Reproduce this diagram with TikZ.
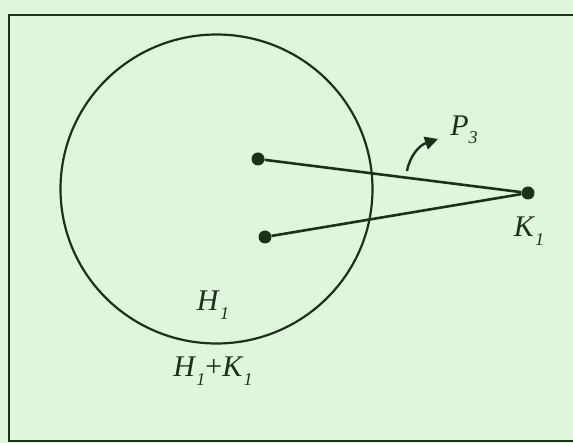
\documentclass[tikz,border=0pt]{standalone}
\usepackage{fontspec}
\setmainfont{Liberation Serif}
\usetikzlibrary{arrows.meta}
\definecolor{ink}{RGB}{28,48,32}
\definecolor{paper}{RGB}{224,246,220}
\newcommand{\lab}[2]{\textit{#1}\raisebox{-0.28em}{\fontsize{18}{18}\selectfont\itshape #2}}
\tikzset{
  dot/.style={circle, fill=ink, inner sep=0pt, minimum size=13pt},
  conn/.style={draw=ink, line width=2.6pt},
  lbl/.style={text=ink, font=\fontsize{30}{32}\selectfont, inner sep=0pt},
}
\begin{document}
\begin{tikzpicture}[x=1pt,y=-1pt]
\useasboundingbox (0,0) rectangle (573,443);
\fill[paper] (0,0) rectangle (573,443);
\begin{scope}
\clip (0,0) rectangle (573,443);
\draw[ink, line width=2.2pt] (9,15) rectangle (590,441);
\end{scope}
\draw[ink, line width=2.2pt] (216.5,189) circle [x radius=156pt, y radius=154.5pt];
\node[dot] (u) at (258,159) {};
\node[dot] (l) at (265,237) {};
\node[dot] (k) at (528,193) {};
\draw[conn] (u) -- (k);
\draw[conn] (l) -- (k);
\coordinate (as) at (407,171);
\coordinate (ae) at (438,139);
\draw[ink, line width=2.4pt, -{Triangle[length=13pt,width=13pt]}] (as) .. controls (410,155) and (420,145) .. (ae);
\node[lbl] (p3) at (464,130) {\lab{P}{3}};
\node[lbl] (k1) at (529,231) {\lab{K}{1}};
\node[lbl] (h1) at (213,305) {\lab{H}{1}};
\node[lbl] (hk) at (213,371) {\lab{H}{1}+\lab{K}{1}};
\end{tikzpicture}
\end{document}
